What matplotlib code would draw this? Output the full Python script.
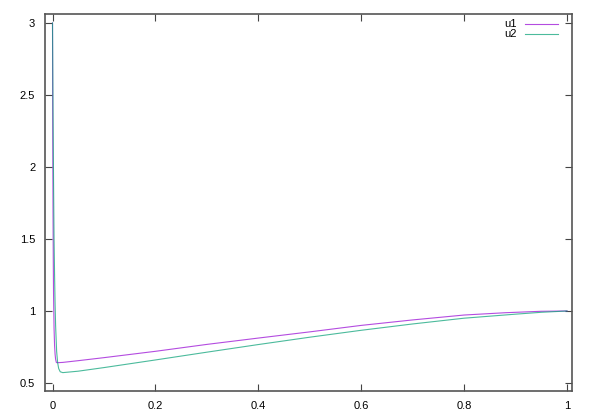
import matplotlib
matplotlib.use('Agg')
import matplotlib.pyplot as plt

plt.rcParams['font.family'] = ['Liberation Sans', 'DejaVu Sans']

# values (gnuplot style output)
x1 = [0, 0.0005, 0.001, 0.0015, 0.002, 0.003, 0.004, 0.005, 0.006, 0.0075, 0.01,
      0.02, 0.05, 0.1, 0.2, 0.3, 0.4, 0.5, 0.6, 0.7, 0.8, 0.88, 0.95, 1.0]
u1 = [3.0, 2.2, 1.7, 1.35, 1.12, 0.88, 0.76, 0.70, 0.665, 0.642, 0.641,
      0.643, 0.655, 0.676, 0.72, 0.768, 0.812, 0.855, 0.9, 0.938, 0.972, 0.988, 0.998, 1.0]

x2 = [0, 0.001, 0.002, 0.003, 0.004, 0.005, 0.006, 0.008, 0.010, 0.012, 0.015,
      0.02, 0.05, 0.1, 0.2, 0.3, 0.4, 0.5, 0.6, 0.7, 0.8, 0.9, 0.95, 1.0]
u2 = [3.0, 2.4, 1.9, 1.5, 1.25, 1.05, 0.9, 0.72, 0.64, 0.6, 0.578,
      0.572, 0.582, 0.607, 0.66, 0.714, 0.767, 0.818, 0.866, 0.91, 0.95, 0.978, 0.991, 1.0]

names = ['u1', 'u2']
colors = ['#9400d3', '#009e73']

xticks = [0, 0.2, 0.4, 0.6, 0.8, 1]
xlabels = ['0', '0.2', '0.4', '0.6', '0.8', '1']
yticks = [0.5, 1, 1.5, 2, 2.5, 3]
ylabels = ['0.5', '1', '1.5', '2', '2.5', '3']

W, H = 593, 415
fig = plt.figure(figsize=(W / 100, H / 100), dpi=100)
ax = fig.add_axes([45 / W, 1 - 391 / H, 527 / W, 377 / H])

ax.plot(x1, u1, color=colors[0], lw=0.8, alpha=0.7)
ax.plot(x2, u2, color=colors[1], lw=0.8, alpha=0.7)

ax.set_xlim(-0.0146, 1.0097)
ax.set_ylim(0.4444, 3.0625)
ax.set_xticks(xticks)
ax.set_xticklabels(xlabels)
ax.set_yticks(yticks)
ax.set_yticklabels(ylabels)
ax.tick_params(direction='in', length=5, width=0.8, color='#444444',
               top=True, right=True, labelsize=8, pad=7)

for s in ax.spines.values():
    s.set_color('#555555')
    s.set_linewidth(1.2)

# legend drawn like gnuplot's key
for i, name in enumerate(names):
    yy = 0.9735 - i * 0.027
    ax.text(0.8956, yy, name, transform=ax.transAxes, ha='right', va='center', fontsize=8)
    ax.plot([0.911, 0.9734], [yy, yy], transform=ax.transAxes, color=colors[i], lw=0.8, alpha=0.7)

fig.savefig('out.png', dpi=100)
